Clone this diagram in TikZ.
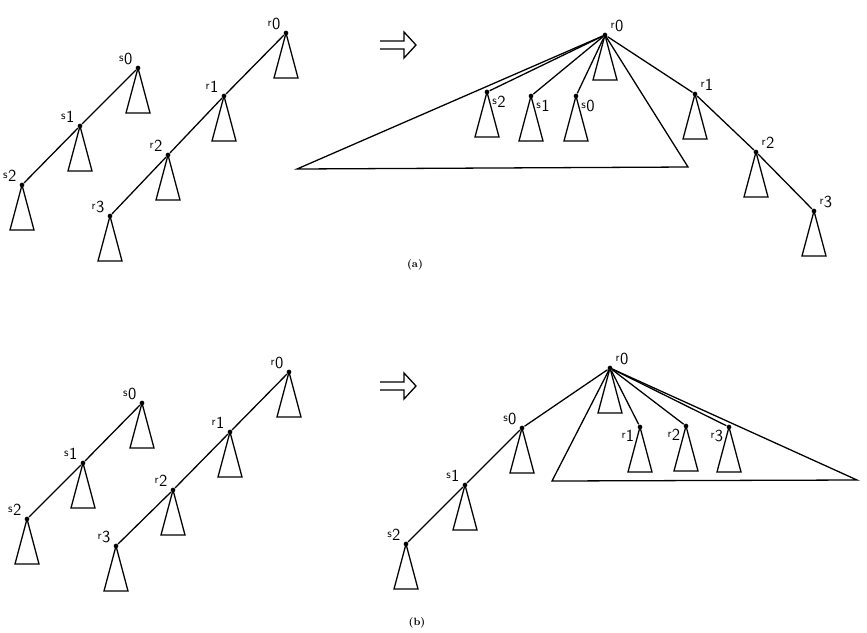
\documentclass[tikz,border=0pt]{standalone}
\usepackage{tikz}
\usetikzlibrary{arrows.meta, positioning, calc}

% vertex name: small raised letter, full size index
\newcommand{\vn}[2]{\textsf{\raisebox{.4ex}{\normalsize #1}\kern.3pt#2}}

\tikzset{
  vtx/.style={circle, fill, inner sep=0pt, minimum size=4pt},
  lab/.style={font=\Large, inner sep=1pt, label distance=1pt},
  subtree/.pic={\draw (0,0) -- (-12,45) -- (12,45) -- cycle;},
  implies/.pic={\draw (-17,-4) -- (7,-4) -- (7,-13) -- (19,0) -- (7,13) -- (7,4) -- (-17,4);},
}

\begin{document}
\begin{tikzpicture}[x=0.03cm, y=-0.03cm, line width=1.1pt, line join=miter]
  \useasboundingbox (0,0) rectangle (867,632);

  % (a) before: two chains
  \node[vtx, label={[lab]160:\vn{s}{0}}] (as0) at (138,68) {};
  \node[vtx, label={[lab]160:\vn{s}{1}}] (as1) at (80,126) {};
  \node[vtx, label={[lab]160:\vn{s}{2}}] (as2) at (22,185) {};
  \node[vtx, label={[lab]160:\vn{r}{0}}] (ar0) at (286,33) {};
  \node[vtx, label={[lab]160:\vn{r}{1}}] (ar1) at (224,96) {};
  \node[vtx, label={[lab]160:\vn{r}{2}}] (ar2) at (168,155) {};
  \node[vtx, label={[lab]160:\vn{r}{3}}] (ar3) at (110,216) {};
  \draw (as0) -- (as1) -- (as2);
  \draw (ar0) -- (ar1) -- (ar2) -- (ar3);
  \foreach \v in {as0,as1,as2,ar0,ar1,ar2,ar3}
    \pic at (\v) {subtree};

  \pic at (397,45) {implies};

  % (a) after: s chain hung under r0
  \node[vtx, label={[lab]20:\vn{r}{0}}] (br0) at (605,35) {};
  \node[vtx, label={[lab]-30:\vn{s}{2}}] (bs2) at (487,92) {};
  \node[vtx, label={[lab]-30:\vn{s}{1}}] (bs1) at (531,96) {};
  \node[vtx, label={[lab]-30:\vn{s}{0}}] (bs0) at (576,96) {};
  \node[vtx, label={[lab]25:\vn{r}{1}}] (br1) at (695,94) {};
  \node[vtx, label={[lab]20:\vn{r}{2}}] (br2) at (756,152) {};
  \node[vtx, label={[lab]25:\vn{r}{3}}] (br3) at (814,211) {};
  \coordinate (bigAl) at (297,169);
  \coordinate (bigAr) at (688,167);
  \draw (br0.center) -- (bigAl) -- (bigAr) -- cycle;
  \draw (br0) -- (bs2);
  \draw (br0) -- (bs1);
  \draw (br0) -- (bs0);
  \draw (br0) -- (br1) -- (br2) -- (br3);
  \foreach \v in {br0,bs2,bs1,bs0,br1,br2,br3}
    \pic at (\v) {subtree};

  \node[font=\small\bfseries] (capA) at (415,265) {(a)};

  % (b) before: two chains
  \node[vtx, label={[lab]160:\vn{s}{0}}] (cs0) at (142,403) {};
  \node[vtx, label={[lab]160:\vn{s}{1}}] (cs1) at (83,463) {};
  \node[vtx, label={[lab]160:\vn{s}{2}}] (cs2) at (27,519) {};
  \node[vtx, label={[lab]160:\vn{r}{0}}] (cr0) at (289,372) {};
  \node[vtx, label={[lab]160:\vn{r}{1}}] (cr1) at (230,432) {};
  \node[vtx, label={[lab]160:\vn{r}{2}}] (cr2) at (173,490) {};
  \node[vtx, label={[lab]160:\vn{r}{3}}] (cr3) at (116,546) {};
  \draw (cs0) -- (cs1) -- (cs2);
  \draw (cr0) -- (cr1) -- (cr2) -- (cr3);
  \foreach \v in {cs0,cs1,cs2,cr0,cr1,cr2,cr3}
    \pic at (\v) {subtree};

  \pic at (397,386) {implies};

  % (b) after: r chain flattened under r0
  \node[vtx, label={[lab]20:\vn{r}{0}}] (dr0) at (610,368) {};
  \node[vtx, label={[lab]155:\vn{s}{0}}] (ds0) at (522,428) {};
  \node[vtx, label={[lab]155:\vn{s}{1}}] (ds1) at (465,485) {};
  \node[vtx, label={[lab]155:\vn{s}{2}}] (ds2) at (406,544) {};
  \node[vtx, label={[lab]-165:\vn{r}{1}}] (dr1) at (640,427) {};
  \node[vtx, label={[lab]-165:\vn{r}{2}}] (dr2) at (686,426) {};
  \node[vtx, label={[lab]-165:\vn{r}{3}}] (dr3) at (729,427) {};
  \coordinate (bigBl) at (552,481);
  \coordinate (bigBr) at (857,480);
  \draw (dr0.center) -- (bigBl) -- (bigBr) -- cycle;
  \draw (dr0) -- (dr1);
  \draw (dr0) -- (dr2);
  \draw (dr0) -- (dr3);
  \draw (dr0) -- (ds0) -- (ds1) -- (ds2);
  \foreach \v in {dr0,ds0,ds1,ds2,dr1,dr2,dr3}
    \pic at (\v) {subtree};

  \node[font=\small\bfseries] (capB) at (417,623) {(b)};
\end{tikzpicture}
\end{document}
